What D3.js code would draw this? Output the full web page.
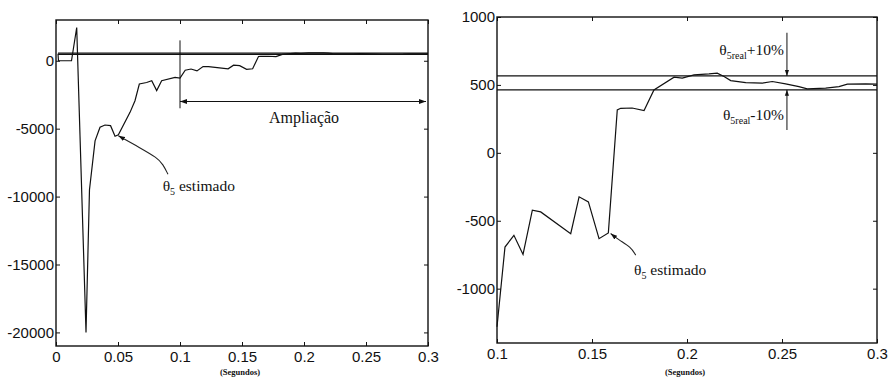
<!DOCTYPE html>
<html>
    <head>
        <meta charset="utf-8">
        <title>theta5 estimado</title>
        <script src="https://d3js.org/d3.v7.min.js"></script>
        <style>
            body { margin: 0; background: #fff; }
            .tick text { font-family: "Liberation Sans", Arial, sans-serif; font-size: 15px; fill: #111; }
            .tick line { stroke: #111; }
            .note { font-family: "Liberation Serif", "Times New Roman", serif; fill: #111; }
        </style>
    </head>
    <body>
        <script>

        // estimated theta5 over time (s)
        const timeS = [0.0016, 0.002, 0.0125, 0.0167, 0.0242, 0.027, 0.0315, 0.0355, 0.0395, 0.044, 0.0476,
            0.0503, 0.0597, 0.0637, 0.0672, 0.0731, 0.0772, 0.0812, 0.0852, 0.096,
            0.1, 0.1042, 0.1089, 0.1137, 0.1186, 0.123, 0.1388, 0.1432, 0.1481, 0.1537, 0.1586,
            0.1633, 0.1651, 0.1711, 0.1774, 0.1826, 0.1932, 0.1975, 0.2037, 0.2116, 0.2159,
            0.2195, 0.223, 0.2309, 0.2396, 0.2449, 0.2519, 0.2589, 0.2633, 0.273, 0.28,
            0.2844, 0.2941, 0.3];
        const theta5Est = [515, 0, 0, 2450, -20000, -9500, -5900, -4900, -4730, -4780, -5560,
            -5450, -3800, -2940, -1710, -1600, -1470, -2200, -1470, -1230,
            -1280, -694, -607, -748, -422, -435, -595, -324, -361, -632, -590,
            316, 328, 330, 311, 463, 557, 550, 574, 581, 587,
            562, 532, 517, 513, 525, 508, 488, 471, 476, 488,
            506, 508, 506];

        const theta5Real = 515;
        const bandUpper = theta5Real * 1.1;
        const bandLower = theta5Real * 0.9;

        const xTicksLeft = [0, 0.05, 0.1, 0.15, 0.2, 0.25, 0.3];
        const xLabelsLeft = ["0", "0.05", "0.1", "0.15", "0.2", "0.25", "0.3"];
        const yTicksLeft = [-20000, -15000, -10000, -5000, 0];
        const xTicksRight = [0.1, 0.15, 0.2, 0.25, 0.3];
        const xLabelsRight = ["0.1", "0.15", "0.2", "0.25", "0.3"];
        const yTicksRight = [-1000, -500, 0, 500, 1000];

        const data = timeS.map((t, i) => ({ t: t, v: theta5Est[i] }));

        const svg = d3.select("body").append("svg")
            .attr("width", 890)
            .attr("height", 381);

        const defs = svg.append("defs");
        defs.append("marker")
            .attr("id", "head")
            .attr("viewBox", "0 0 10 10")
            .attr("refX", 10).attr("refY", 5)
            .attr("markerWidth", 6).attr("markerHeight", 6)
            .attr("orient", "auto-start-reverse")
            .append("path")
            .attr("d", "M0,1.5 L10,5 L0,8.5 Z")
            .attr("fill", "#111");

        // left: whole run, right: zoom on 0.1..0.3
        const xL = d3.scaleLinear().domain([0, 0.3]).range([56, 428]);
        const yL = d3.scaleLinear().domain([-21000, 3000]).range([346, 20]);
        const xR = d3.scaleLinear().domain([0.1, 0.3]).range([497, 877]);
        const yR = d3.scaleLinear().domain([-1400, 1000]).range([343, 17]);

        function drawFrame(x, y, xTicks, xLabels, yTicks) {
            const [x0, x1] = x.range();
            const [y1, y0] = y.range();
            const g = svg.append("g");

            g.append("g")
                .attr("transform", `translate(0,${y1})`)
                .call(d3.axisBottom(x).tickValues(xTicks).tickSize(-4).tickPadding(5)
                    .tickFormat((d, i) => xLabels[i]));
            g.append("g")
                .attr("transform", `translate(0,${y0})`)
                .call(d3.axisTop(x).tickValues(xTicks).tickSize(-4).tickFormat(""));
            g.append("g")
                .attr("transform", `translate(${x0},0)`)
                .call(d3.axisLeft(y).tickValues(yTicks).tickSize(-4).tickPadding(2)
                    .tickFormat(d => String(d)));
            g.append("g")
                .attr("transform", `translate(${x1},0)`)
                .call(d3.axisRight(y).tickValues(yTicks).tickSize(-4).tickFormat(""));

            g.selectAll(".domain").remove();
            g.selectAll(".tick text").attr("fill", "#111");

            g.append("rect")
                .attr("x", x0).attr("y", y0)
                .attr("width", x1 - x0).attr("height", y1 - y0)
                .attr("fill", "none")
                .attr("stroke", "#111")
                .attr("stroke-width", 1.4);

            g.append("text")
                .attr("class", "note")
                .attr("x", (x0 + x1) / 2 - 2)
                .attr("y", 375)
                .attr("text-anchor", "middle")
                .attr("font-size", 8.5)
                .attr("font-weight", "bold")
                .text("(Segundos)");
        }

        drawFrame(xL, yL, xTicksLeft, xLabelsLeft, yTicksLeft);
        drawFrame(xR, yR, xTicksRight, xLabelsRight, yTicksRight);

        // threshold lines
        svg.selectAll(".bandL")
            .data([bandUpper, bandLower])
            .join("line")
            .attr("x1", xL(0.0016)).attr("x2", xL(0.3))
            .attr("y1", d => yL(d)).attr("y2", d => yL(d))
            .attr("stroke", "#111").attr("stroke-width", 1.2);
        svg.selectAll(".bandR")
            .data([bandUpper, bandLower])
            .join("line")
            .attr("x1", xR(0.1)).attr("x2", xR(0.3))
            .attr("y1", d => yR(d)).attr("y2", d => yR(d))
            .attr("stroke", "#111").attr("stroke-width", 1.4);

        // curves
        const lineL = d3.line().x(d => xL(d.t)).y(d => yL(d.v));
        svg.append("path")
            .datum(data)
            .attr("d", lineL)
            .attr("fill", "none")
            .attr("stroke", "#111")
            .attr("stroke-width", 1.2);

        const lineR = d3.line().x(d => xR(d.t)).y(d => yR(d.v));
        svg.append("path")
            .datum(data.filter(d => d.t >= 0.1))
            .attr("d", lineR)
            .attr("fill", "none")
            .attr("stroke", "#111")
            .attr("stroke-width", 1.2);

        // "Ampliação" marker on the left chart
        svg.append("line")
            .attr("x1", xL(0.1)).attr("x2", xL(0.1))
            .attr("y1", yL(1500)).attr("y2", yL(-3500))
            .attr("stroke", "#111").attr("stroke-width", 1);
        svg.append("line")
            .attr("x1", xL(0.1)).attr("x2", xL(0.3) - 2)
            .attr("y1", yL(-3000)).attr("y2", yL(-3000))
            .attr("stroke", "#111").attr("stroke-width", 1.2)
            .attr("marker-start", "url(#head)")
            .attr("marker-end", "url(#head)");
        svg.append("text")
            .attr("class", "note")
            .attr("x", xL(0.2)).attr("y", yL(-3000) + 21)
            .attr("text-anchor", "middle")
            .attr("font-size", 16)
            .text("Ampliação");

        // "θ5 estimado" leaders
        const curvy = d3.line().curve(d3.curveBasis);
        function leader(points, x, y) {
            const pts = points.map(p => [x(p[0]), y(p[1])]);
            svg.append("path")
                .attr("d", curvy(pts.slice().reverse()))
                .attr("fill", "none")
                .attr("stroke", "#222")
                .attr("stroke-width", 1.1)
                .attr("marker-end", "url(#head)");
        }
        function thetaLabel(x, y, sub, rest, anchor) {
            const t = svg.append("text")
                .attr("class", "note")
                .attr("x", x).attr("y", y)
                .attr("text-anchor", anchor)
                .attr("font-size", 15.5);
            t.append("tspan").text("θ");
            t.append("tspan").attr("font-size", 10).attr("dy", 4).text(sub);
            t.append("tspan").attr("dy", -4).text(rest);
        }

        leader([[0.0503, -5520], [0.0677, -6410], [0.0815, -7140], [0.0863, -7620], [0.0903, -8360]], xL, yL);
        thetaLabel(xL(0.086), yL(-9570), "5", " estimado", "start");

        leader([[0.1598, -594], [0.1642, -642], [0.1704, -693], [0.173, -753]], xR, yR);
        thetaLabel(xR(0.1721), yR(-901), "5", " estimado", "start");

        // ±10% band labels
        const arrowT = 0.2526;
        svg.append("line")
            .attr("x1", xR(arrowT)).attr("x2", xR(arrowT))
            .attr("y1", yR(884)).attr("y2", yR(bandUpper))
            .attr("stroke", "#111").attr("stroke-width", 1)
            .attr("marker-end", "url(#head)");
        svg.append("line")
            .attr("x1", xR(arrowT)).attr("x2", xR(arrowT))
            .attr("y1", yR(168)).attr("y2", yR(bandLower))
            .attr("stroke", "#111").attr("stroke-width", 1)
            .attr("marker-end", "url(#head)");
        thetaLabel(xR(arrowT) - 3, yR(722), "5real", "+10%", "end");
        thetaLabel(xR(arrowT) - 3, yR(242), "5real", "-10%", "end");

        </script>
    </body>
</html>
